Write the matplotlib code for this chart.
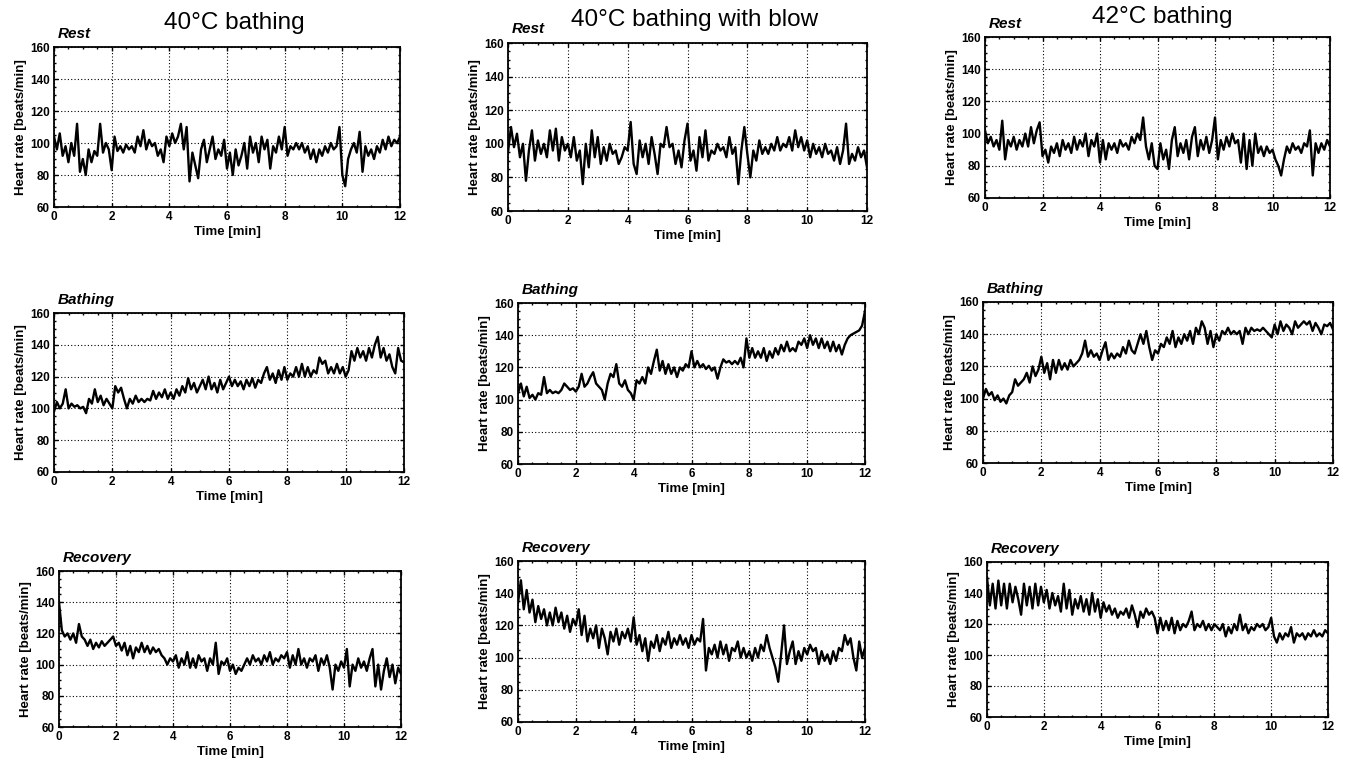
import numpy as np
import matplotlib
matplotlib.use("Agg")
import matplotlib.pyplot as plt
from matplotlib.ticker import MultipleLocator

# Condiciones (columnas) y fases (filas)
conditions = ["40°C bathing", "40°C bathing with blow", "42°C bathing"]
phases = ["Rest", "Bathing", "Recovery"]

# Frecuencia cardiaca, una muestra cada 0.1 min (0-12 min)
hr_40_rest = [104, 96, 106, 92, 98, 88, 100, 92, 112, 82, 90, 80, 96, 88, 95, 92, 112, 94, 100, 96,
              83, 104, 95, 98, 94, 99, 96, 98, 94, 104, 98, 108, 96, 102, 98, 100, 92, 96, 88, 104,
              98, 106, 100, 104, 112, 96, 110, 76, 94, 86, 78, 96, 102, 88, 96, 104, 90, 96, 92, 102,
              84, 94, 80, 96, 86, 92, 100, 84, 104, 94, 100, 88, 104, 96, 102, 84, 98, 94, 104, 96,
              110, 92, 98, 96, 100, 96, 100, 94, 98, 90, 96, 88, 96, 92, 98, 94, 100, 96, 98, 110,
              80, 73, 90, 96, 100, 94, 107, 82, 98, 92, 96, 90, 98, 94, 102, 96, 104, 98, 102, 100,
              104]
hr_blow_rest = [95, 110, 98, 106, 92, 100, 78, 96, 108, 90, 102, 94, 100, 92, 108, 96, 109, 90, 104, 96,
                100, 92, 104, 90, 96, 76, 100, 86, 108, 92, 104, 88, 98, 90, 100, 94, 96, 88, 92, 98,
                96, 113, 88, 82, 102, 92, 100, 88, 104, 94, 82, 100, 98, 110, 98, 100, 88, 96, 86, 102,
                112, 90, 96, 84, 104, 92, 108, 90, 96, 94, 100, 96, 98, 92, 104, 94, 98, 76, 96, 110,
                94, 80, 96, 90, 102, 94, 98, 94, 100, 96, 104, 96, 100, 98, 104, 96, 108, 98, 104, 96,
                102, 92, 100, 94, 98, 92, 100, 94, 96, 90, 98, 88, 96, 112, 88, 94, 90, 98, 92, 96,
                86]
hr_42_rest = [102, 94, 98, 92, 96, 90, 108, 84, 96, 92, 98, 90, 96, 92, 100, 92, 104, 94, 102, 107,
              86, 90, 82, 92, 88, 94, 86, 96, 90, 94, 88, 98, 90, 96, 92, 100, 86, 96, 92, 100,
              82, 96, 84, 94, 90, 94, 88, 96, 92, 94, 90, 98, 94, 100, 96, 110, 92, 84, 94, 80,
              78, 94, 84, 90, 78, 96, 104, 86, 94, 88, 96, 84, 98, 104, 86, 96, 90, 98, 88, 96,
              110, 84, 96, 90, 98, 92, 100, 94, 96, 82, 100, 78, 96, 80, 100, 88, 92, 86, 92, 88,
              90, 84, 80, 74, 84, 92, 88, 94, 90, 92, 88, 94, 92, 102, 74, 94, 88, 94, 90, 96,
              92]

hr_40_bath = [98, 104, 100, 103, 112, 100, 103, 101, 102, 100, 101, 97, 106, 103, 112, 104, 108, 102, 106, 103,
              100, 114, 110, 113, 106, 100, 106, 103, 108, 104, 106, 104, 106, 105, 111, 106, 110, 107, 112, 106,
              110, 106, 112, 108, 114, 110, 119, 112, 116, 110, 114, 118, 112, 120, 112, 116, 110, 118, 112, 116,
              120, 114, 118, 114, 117, 112, 118, 114, 119, 113, 118, 116, 122, 126, 118, 122, 116, 124, 118, 126,
              118, 122, 120, 126, 120, 128, 120, 126, 120, 124, 122, 132, 128, 130, 122, 126, 122, 128, 122, 126,
              120, 124, 136, 130, 138, 132, 136, 130, 138, 132, 140, 145, 132, 138, 130, 134, 126, 122, 138, 130,
              129]
hr_blow_bath = [104, 110, 102, 108, 101, 103, 100, 104, 103, 114, 104, 106, 104, 105, 104, 106, 110, 108, 106, 107,
                105, 108, 116, 108, 110, 114, 117, 110, 108, 106, 100, 110, 116, 114, 122, 110, 108, 112, 106, 104,
                100, 112, 110, 114, 110, 120, 116, 124, 131, 118, 124, 116, 122, 116, 120, 114, 120, 118, 122, 120,
                130, 120, 124, 120, 122, 119, 121, 118, 120, 113, 120, 125, 123, 124, 122, 124, 122, 126, 120, 138,
                126, 132, 126, 130, 126, 132, 124, 130, 126, 132, 128, 134, 130, 136, 130, 132, 130, 136, 134, 138,
                132, 140, 134, 138, 132, 138, 132, 136, 130, 136, 130, 134, 128, 134, 138, 140, 141, 142, 143, 146,
                155]
hr_42_bath = [100, 106, 102, 104, 99, 102, 98, 100, 97, 102, 104, 112, 108, 110, 112, 116, 110, 120, 114, 118,
              126, 116, 122, 112, 124, 116, 124, 118, 122, 118, 124, 120, 122, 124, 128, 136, 126, 130, 126, 128,
              124, 130, 135, 124, 128, 125, 128, 126, 132, 128, 136, 130, 128, 134, 140, 134, 142, 132, 124, 130,
              128, 134, 132, 138, 134, 142, 132, 138, 134, 140, 136, 142, 134, 144, 140, 148, 144, 134, 142, 132,
              140, 136, 142, 140, 144, 140, 142, 140, 142, 134, 144, 140, 144, 142, 143, 142, 144, 142, 140, 138,
              146, 140, 148, 142, 146, 144, 140, 148, 144, 146, 148, 146, 148, 142, 147, 144, 140, 146, 145, 147,
              143]

hr_40_rec = [140, 122, 118, 120, 116, 120, 114, 126, 118, 116, 112, 116, 110, 114, 111, 115, 112, 114, 116, 118,
             112, 114, 109, 114, 106, 112, 104, 111, 108, 114, 108, 112, 107, 111, 108, 110, 106, 104, 100, 104,
             102, 106, 98, 104, 100, 108, 98, 104, 98, 106, 102, 104, 96, 104, 100, 114, 94, 102, 100, 104,
             96, 100, 94, 98, 96, 100, 104, 100, 106, 102, 104, 100, 106, 102, 108, 100, 104, 102, 106, 104,
             108, 98, 106, 100, 110, 100, 104, 98, 104, 102, 106, 96, 104, 100, 106, 98, 84, 100, 96, 102,
             98, 110, 86, 100, 96, 104, 98, 102, 96, 104, 110, 86, 100, 84, 96, 104, 92, 100, 88, 98,
             94]
hr_blow_rec = [134, 148, 130, 142, 128, 136, 122, 132, 124, 130, 120, 128, 120, 131, 122, 128, 118, 126, 116, 124,
               120, 130, 114, 126, 110, 118, 112, 120, 106, 118, 112, 102, 116, 110, 118, 108, 116, 112, 118, 110,
               125, 108, 114, 104, 112, 98, 110, 106, 114, 104, 112, 108, 116, 106, 112, 108, 114, 108, 112, 106,
               114, 108, 112, 110, 124, 92, 106, 102, 108, 100, 110, 102, 108, 98, 106, 104, 110, 100, 106, 100,
               104, 98, 106, 100, 108, 104, 114, 106, 100, 94, 85, 102, 120, 96, 104, 110, 96, 104, 98, 106,
               102, 108, 104, 106, 96, 104, 98, 102, 96, 104, 98, 106, 104, 114, 108, 112, 100, 92, 110, 100,
               106]
hr_42_rec = [150, 132, 146, 130, 148, 132, 146, 130, 146, 134, 144, 136, 126, 146, 132, 144, 130, 146, 132, 144,
             134, 142, 130, 140, 132, 138, 128, 146, 130, 142, 126, 136, 130, 138, 128, 136, 126, 140, 128, 136,
             124, 134, 128, 132, 126, 130, 124, 128, 126, 130, 124, 132, 126, 118, 128, 124, 130, 126, 128, 124,
             114, 124, 116, 122, 116, 124, 114, 122, 116, 120, 118, 122, 128, 116, 120, 118, 122, 116, 120, 116,
             120, 118, 116, 120, 112, 118, 114, 120, 116, 126, 116, 120, 114, 118, 116, 120, 118, 120, 116, 118,
             124, 112, 108, 114, 110, 114, 112, 118, 108, 114, 112, 114, 110, 114, 112, 116, 112, 114, 112, 116,
             114]

series = [[hr_40_rest, hr_blow_rest, hr_42_rest],
          [hr_40_bath, hr_blow_bath, hr_42_bath],
          [hr_40_rec, hr_blow_rec, hr_42_rec]]

x_ticks = [0, 2, 4, 6, 8, 10, 12]
y_ticks = [60, 80, 100, 120, 140, 160]

# Posicion de cada panel en pixeles: (izquierda, arriba, derecha, abajo)
boxes = [[(54, 47, 400, 207), (508, 43, 867, 211), (985, 37, 1330, 198)],
         [(54, 313, 404, 472), (518, 303, 865, 464), (983, 302, 1333, 463)],
         [(59, 571, 401, 727), (518, 561, 865, 722), (987, 562, 1328, 717)]]

W, H = 1353, 761
plt.rcParams['font.family'] = ['Liberation Sans', 'DejaVu Sans']
fig = plt.figure(figsize=(W / 100, H / 100), dpi=100)

for r in range(3):
    for c in range(3):
        l, t, rr, b = boxes[r][c]
        ax = fig.add_axes([l / W, 1 - b / H, (rr - l) / W, (b - t) / H])
        vals = series[r][c]
        time = np.linspace(0, 12, len(vals))
        ax.plot(time, vals, color='black', lw=1.7)
        ax.set_xlim(0, 12)
        ax.set_ylim(60, 160)
        ax.set_xticks(x_ticks)
        ax.set_yticks(y_ticks)
        ax.xaxis.set_minor_locator(MultipleLocator(0.5))
        ax.yaxis.set_minor_locator(MultipleLocator(5))
        ax.tick_params(which='both', direction='in', top=True, right=True, width=1)
        ax.tick_params(which='major', length=3, labelsize=8.5, pad=3)
        ax.tick_params(which='minor', length=1.5)
        for lab in ax.get_xticklabels() + ax.get_yticklabels():
            lab.set_fontweight('bold')
        ax.grid(True, color='black', linestyle=(0, (1, 2)), linewidth=0.8)
        for sp in ax.spines.values():
            sp.set_linewidth(1.3)
        ax.set_xlabel('Time [min]', fontsize=9.5, fontweight='bold', labelpad=2)
        ax.set_ylabel('Heart rate [beats/min]', fontsize=9.5, fontweight='bold', labelpad=2)
        ax.text(0.01, 1.04, phases[r], transform=ax.transAxes, fontsize=11,
                fontstyle='italic', fontweight='bold', ha='left', va='bottom')

# Titulos de columna
title_pos = [(234, 23), (695, 20), (1162, 17)]
for c in range(3):
    fig.text(title_pos[c][0] / W, 1 - title_pos[c][1] / H, conditions[c],
             fontsize=17.5, ha='center', va='center')

fig.savefig('out.png', dpi=100)
